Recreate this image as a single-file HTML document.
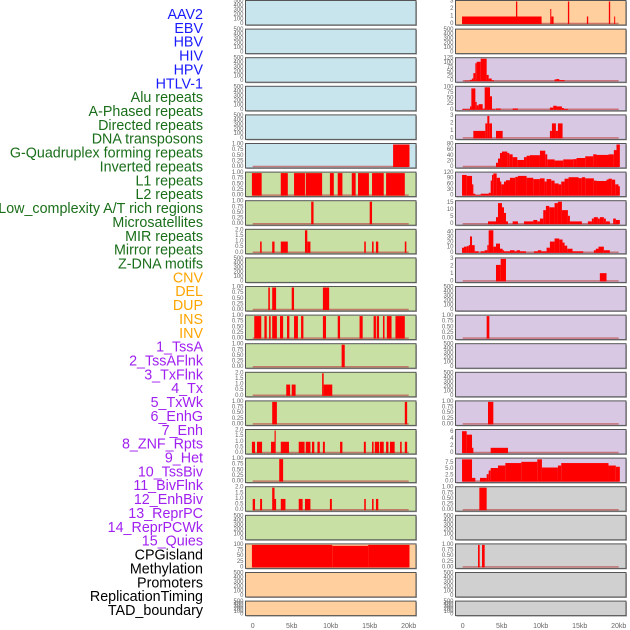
<!DOCTYPE html>
<html><head><meta charset="utf-8">
<style>
html,body{margin:0;padding:0;background:#fff;}
svg{display:block;font-family:"Liberation Sans",sans-serif;}
</style></head>
<body>
<svg id="chart" width="630" height="630" viewBox="0 0 630 630" xmlns="http://www.w3.org/2000/svg"></svg>
<script>
// ---- data ----
const rowLabels = ["AAV2","EBV","HBV","HIV","HPV","HTLV-1","Alu repeats","A-Phased repeats","Directed repeats","DNA transposons","G-Quadruplex forming repeats","Inverted repeats","L1 repeats","L2 repeats","Low_complexity A/T rich regions","Microsatellites","MIR repeats","Mirror repeats","Z-DNA motifs","CNV","DEL","DUP","INS","INV","1_TssA","2_TssAFlnk","3_TxFlnk","4_Tx","5_TxWk","6_EnhG","7_Enh","8_ZNF_Rpts","9_Het","10_TssBiv","11_BivFlnk","12_EnhBiv","13_ReprPC","14_ReprPCWk","15_Quies","CPGisland","Methylation","Promoters","ReplicationTiming","TAD_boundary"];
const labelGroups = [6,13,5,15,5];
const groupColors = ["#1a1aff","#1a6e1a","#ffa500","#a020f0","#000000"];
const xTickValues = [0,5,10,15,20];
const xTickLabels = ["0","5kb","10kb","15kb","20kb"];
const T500 = [0,100,200,300,400,500];
const T1 = [0,0.25,0.5,0.75,1];
const T2 = [0,0.5,1,1.5,2];
const leftTicks = [T500,T500,T500,T500,T500,T1,T1,T1,T2,T500,T1,T1,T1,T2,T1,T2,T1,T2,T500,[0,25,50,75,100],T500,T500];
const leftTickLabels = leftTicks.map(t=>t.map(v=> t===T1? v.toFixed(2) : (t===T2? v.toFixed(1): String(v))));
const leftBg = ["#c8e4ec","#c8e4ec","#c8e4ec","#c8e4ec","#c8e4ec","#c8e4ec","#c8e0a4","#c8e0a4","#c8e0a4","#c8e0a4","#c8e0a4","#c8e0a4","#c8e0a4","#c8e0a4","#c8e0a4","#c8e0a4","#c8e0a4","#c8e0a4","#c8e0a4","#ffcf9e","#ffcf9e","#ffcf9e"];
const leftSegments = [
 [],[],[],[],[],
 [[18.0,20.1,1]],
 [[-0.1,1.15,1],[3.6,4.5,1],[5.3,6.7,1],[6.8,8.9,1],[9.9,10.4,1],[10.9,11.5,1],[12.7,13.2,1],[13.5,14.9,1],[15.3,16.8,1],[17.1,19.5,1]],
 [[7.5,7.8,1],[15.0,15.3,1]],
 [[0.95,1.15,1],[2.5,2.8,1],[3.6,4.5,1],[6.7,7.0,2],[7.0,7.4,1],[14.3,14.5,1],[15.3,15.5,1],[15.8,16.1,1],[19.5,19.7,1]],
 [],
 [[2.0,2.2,1],[2.5,3.0,1],[5.0,5.3,1],[9.0,9.8,1]],
 [[0.2,1.1,1],[1.5,1.8,1],[2.1,2.3,1],[2.5,3.1,1],[3.5,3.9,1],[4.4,4.7,1],[5.3,5.8,1],[6.2,6.5,1],[9.0,9.4,1],[10.9,11.2,1],[13.7,14.1,1],[15.5,15.8,1],[15.9,16.2,1],[16.7,16.9,1],[17.2,17.8,1],[18.3,19.5,1]],
 [[11.4,11.8,1]],
 [[4.3,4.8,1],[5.0,5.5,1],[8.9,9.1,2],[9.1,10.2,1]],
 [[2.5,3.1,1],[19.5,19.8,1]],
 [[-0.1,0.3,1],[0.55,1.2,1],[2.35,2.8,1],[2.8,2.95,2],[3.6,4.65,1],[5.9,6.65,1],[6.8,7.4,1],[7.6,7.9,1],[8.3,8.6,1],[9.0,9.25,1],[11.2,11.5,1],[14.25,14.5,1],[15.3,15.5,1],[15.65,16.2,1],[16.3,16.8,1],[17.1,17.4,1],[17.6,18.2,1],[18.9,19.1,1],[19.5,19.8,1]],
 [[3.4,3.9,1]],
 [[0,0.3,1],[0.95,1.2,1],[2.5,2.8,2],[2.8,3.0,1],[3.6,4.2,1],[5.9,6.4,1],[6.7,7.4,1],[9.9,10.15,1],[14.3,14.5,1],[15.3,15.5,1],[15.8,16.1,1]],
 [],
 [[-0.1,10.2,100],[10.2,14.8,96],[14.8,20.1,100]],
 [],[]
];
const rightTicks = [[0,1,2,3],T500,[0,25,50,75,100,125],[0,25,50,75,100],[0,1,2,3],[0,20,40,60,80],[0,30,60,90,120],[0,5,10,15],[0,10,20,30,40],[0,1,2,3],T500,T1,T500,T500,T1,[0,2,4,6],[0,2.5,5,7.5],T1,T500,T1,T500,T500];
const rightTickLabels = rightTicks.map(t=>t.map(v=> t===T1? v.toFixed(2) : (t[1]===2.5? v.toFixed(1): String(v))));
const rightMax = [3,500,125,100,3,80,120,16,44,3,500,1,500,500,1,6.5,9.1,1,500,1,500,500];
const rightBg = ["#ffcf9e","#ffcf9e","#d8c8e4","#d8c8e4","#d8c8e4","#d8c8e4","#d8c8e4","#d8c8e4","#d8c8e4","#d8c8e4","#d8c8e4","#d8c8e4","#d8c8e4","#d8c8e4","#d8c8e4","#d8c8e4","#d8c8e4","#d0d0d0","#d0d0d0","#d0d0d0","#d0d0d0","#d0d0d0"];
const rightSegmentsPx = [
 [[96,335,1],[258,262,3],[361,364,2],[364,371,1],[414,418,3],[471,475,1],[537,541,3],[553,556,1]],
 [],
 [[104,120,3],[120,126,8],[126,130,15],[130,136,45],[136,140,100],[140,152,108],[152,170,125],[170,176,35],[176,185,15],[185,192,5],[374,380,10],[380,388,12],[388,404,6]],
 [[96,120,3],[120,124,15],[124,136,95],[136,140,35],[140,146,20],[146,158,25],[158,164,5],[164,180,100],[180,186,60],[186,196,3],[198,212,6],[248,264,6],[360,370,10],[370,380,18],[380,396,15],[396,402,8],[402,414,4]],
 [[130,166,1],[166,172,2],[172,178,3],[178,186,2],[198,218,1],[360,366,1],[366,378,2],[378,384,1],[384,398,2]],
 [[198,204,15],[204,210,30],[210,216,50],[216,232,55],[232,238,50],[238,248,45],[248,262,35],[262,282,25],[282,290,35],[290,300,40],[300,330,42],[330,346,58],[346,352,45],[352,374,27],[374,400,23],[400,430,27],[430,440,28],[440,466,32],[466,490,38],[490,500,45],[500,536,43],[536,552,45],[552,560,60],[560,570,80]],
 [[96,110,110],[110,126,105],[126,130,60],[130,136,10],[136,152,3],[152,176,10],[176,182,15],[182,186,80],[186,190,110],[190,200,118],[200,210,95],[210,214,75],[214,222,60],[222,228,75],[228,240,82],[240,256,95],[256,264,100],[264,290,105],[290,310,95],[310,330,88],[330,344,92],[344,350,75],[350,364,88],[364,374,80],[374,386,65],[386,394,60],[394,404,75],[404,416,90],[416,446,98],[446,456,93],[456,466,98],[466,492,92],[492,500,80],[500,530,78],[530,536,85],[536,546,90],[546,556,85],[556,566,60],[566,570,50]],
 [[174,198,2],[198,204,5],[204,216,15],[216,222,12],[222,228,8],[228,234,2],[248,264,2],[282,310,2],[310,322,3],[322,330,2],[330,340,4],[340,348,10],[348,358,13],[358,374,12],[374,384,15],[384,396,16],[396,414,10],[414,420,6],[420,456,2],[474,486,2],[486,492,4],[492,504,5],[504,510,4],[510,522,5],[522,528,4],[528,540,2],[550,558,4],[558,570,3]],
 [[96,102,10],[102,110,12],[110,116,13],[116,120,15],[120,126,32],[126,134,15],[134,146,3],[152,164,3],[164,172,5],[172,176,15],[176,190,44],[190,198,12],[198,210,18],[210,218,8],[218,222,5],[222,240,3],[240,254,5],[254,260,3],[260,270,5],[270,288,3],[312,324,3],[324,334,5],[334,350,3],[350,360,10],[360,374,22],[374,388,28],[388,398,26],[398,404,20],[404,412,14],[412,428,8],[428,460,3],[492,498,5],[498,506,8],[506,522,12],[522,540,5]],
 [[198,212,2.2],[212,228,3],[510,530,1.1]],
 [],
 [[170,178,1]],
 [],[],
 [[174,190,1]],
 [[96,110,6.3],[110,126,5.3],[126,130,1.5],[182,234,1.5]],
 [[96,126,9],[126,136,1.5],[150,170,1.5],[170,176,3],[176,182,4.5],[182,186,5.5],[186,204,5.5],[204,226,6.5],[226,274,7.5],[274,322,8],[322,336,9],[336,384,5.7],[384,394,6.5],[394,536,7.5],[536,558,6.5],[558,570,6]],
 [[148,170,1]],
 [],
 [[144,149,1],[156,164,1]],
 [],[]
];

const svg = document.getElementById('chart');
const NS = "http://www.w3.org/2000/svg";
function mk(tag, attrs){const e=document.createElementNS(NS,tag);for(const k in attrs)e.setAttribute(k,attrs[k]);return e;}
const rowTop = i => 0.5 + 28.6*i;
const rowH = i => i===21 ? 14.5 : 24.5;
const colLeft = [245.5, 455.5];
const colW = 170.5;
const zeroX = [252.7, 462.7];
const pxPerKb = 7.8;
const xScale = (c,kb) => zeroX[c] + kb*pxPerKb;
const pxToKb = p => (p-98)/23.43;

let li=0;
labelGroups.forEach((n,g)=>{
  for(let k=0;k<n;k++,li++){
    const t=mk('text',{x:203,y:15+li*13.86,'text-anchor':'end','dominant-baseline':'central','font-size':'14.3',fill:groupColors[g]});
    
    
    t.textContent=rowLabels[li];
    svg.appendChild(t);
  }
});

function drawPanel(c,i,bg,ticks,tickLabels,ymax,segs){
  const top=rowTop(i), h=rowH(i), x0=colLeft[c];
  const g=mk('g',{});
  
  
  svg.appendChild(g);
  g.appendChild(mk('rect',{x:x0+1,y:top+1,width:colW,height:h,fill:'#aaa'}));
  g.appendChild(mk('rect',{x:x0,y:top,width:colW,height:h,fill:bg,stroke:'#555','stroke-width':1}));
  const yb=top+h-1, yt=top+1;
  const yScale=v=> yb-(v/ymax)*(yb-yt);
  if(segs.length){
    g.appendChild(mk('line',{x1:xScale(c,0),x2:xScale(c,20),y1:yb-0.5,y2:yb-0.5,stroke:'#c05050','stroke-width':1.5,opacity:0.7}));
  }
  segs.forEach(s=>{
    const a=xScale(c,s[0]), b=xScale(c,s[1]);
    const r=mk('rect',{x:a,y:yScale(s[2]),width:Math.max(0.8,b-a),height:yb-yScale(s[2]),fill:'#ff0000'});
    
    
    g.appendChild(r);
  });
  ticks.forEach((v,k)=>{
    const t=mk('text',{x:x0-2,y:yScale(v),'text-anchor':'end','dominant-baseline':'central','font-size':'6',fill:'#666'});
    
    
    t.textContent=tickLabels[k];
    g.appendChild(t);
  });
}
for(let i=0;i<22;i++){
  const lt=leftTicks[i];
  drawPanel(0,i,leftBg[i],lt,leftTickLabels[i],lt[lt.length-1],leftSegments[i]);
  const segs=rightSegmentsPx[i].map(s=>[pxToKb(s[0]),pxToKb(s[1]),s[2]]);
  drawPanel(1,i,rightBg[i],rightTicks[i],rightTickLabels[i],rightMax[i],segs);
}
[0,1].forEach(c=>{
  xTickValues.forEach((v,k)=>{
    const t=mk('text',{x:xScale(c,v),y:628,'text-anchor':'middle','font-size':'7',fill:'#666'});
    
    
    t.textContent=xTickLabels[k];
    svg.appendChild(t);
  });
});
</script>
</body></html>
